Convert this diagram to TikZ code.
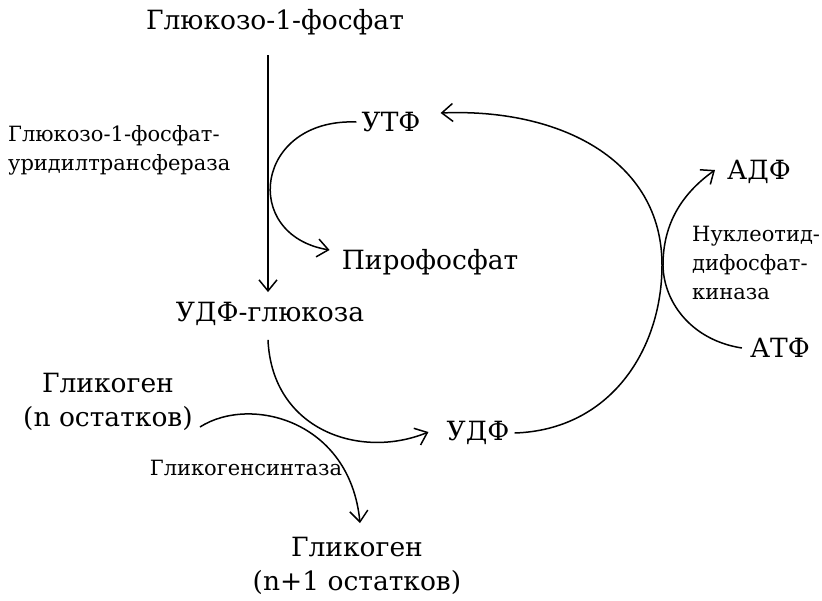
\documentclass[tikz,border=0pt]{standalone}
\usepackage{fontspec}
\setmainfont{DejaVu Serif}
\usetikzlibrary{arrows.meta}

\begin{document}
\begin{tikzpicture}[x=1pt,y=-1pt,
  big/.style={font=\fontsize{26.5}{34}\selectfont,inner sep=0pt},
  small/.style={font=\fontsize{21}{29}\selectfont,inner sep=0pt,align=left},
  arr/.style={line width=1.5pt,-{Straight Barb[length=11pt,width=18pt,line width=1.5pt]}}]
\useasboundingbox (0,0) rectangle (822,600);
% metabolites
\node[big] (g1p) at (275,22) {Глюкозо-1-фосфат};
\node[big] (udpg) at (270,314) {УДФ-глюкоза};
\node[big] (utp) at (391,122) {УТФ};
\node[big] (ppi) at (430,262) {Пирофосфат};
\node[big] (adp) at (759,172) {АДФ};
\node[big] (atp) at (780,348) {АТФ};
\node[big] (udp) at (478,433) {УДФ};
\node[big,align=center] (glyn) at (108,402) {Гликоген\\(n остатков)};
\node[big,align=center] (glyn1) at (357,566) {Гликоген\\(n+1 остатков)};
% enzymes
\node[small,anchor=west] (enz1) at (8,150) {Глюкозо-1-фосфат-\\уридилтрансфераза};
\node[small,anchor=west] (enz2) at (692,263) {Нуклеотид-\\дифосфат-\\киназа};
\node[small] (gs) at (246,468) {Гликогенсинтаза};
% reactions
\draw[arr] ([shift={(-7,20)}]g1p.south) -- ([shift={(-2,-10)}]udpg.north);
\draw[arr] ([xshift=-5pt]utp.west) .. controls (255,118) and (240,235) .. ([shift={(-12,-12)}]ppi.west);
\draw[arr] ([xshift=5pt]udp.east) .. controls (610,430) and (662,350) .. (662,265)
  .. controls (662,160) and (560,108) .. ([shift={(20,-9)}]utp.east);
\draw[arr] ([xshift=-8pt]atp.west) .. controls (690,340) and (662,300) .. (663,262)
  .. controls (664,225) and (680,195) .. ([shift={(-12,-2)}]adp.west);
\draw[arr] ([shift={(-2,14)}]udpg.south) .. controls (272,430) and (360,460) .. ([shift={(-18,-1)}]udp.west);
\draw[arr] ([shift={(7,25)}]glyn.east) .. controls (250,395) and (350,420) .. ([shift={(3,-14)}]glyn1.north);
\end{tikzpicture}
\end{document}
